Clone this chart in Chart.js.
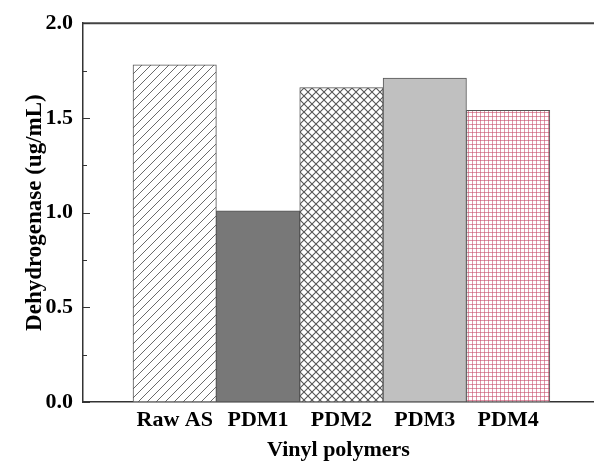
<!DOCTYPE html>
<html>
<head>
<meta charset="utf-8">
<script src="https://cdn.jsdelivr.net/npm/chart.js@4.4.1/dist/chart.umd.min.js"></script>
<style>
html,body{margin:0;padding:0;background:#fff;overflow:hidden;}
#wrap{position:relative;width:594px;height:463px;}
</style>
</head>
<body>
<div id="wrap"><canvas id="c" width="594" height="463"></canvas></div>
<script>
// ---- data ----
const categories = ['Raw AS', 'PDM1', 'PDM2', 'PDM3', 'PDM4'];
const dehydrogenase = [1.78, 1.01, 1.66, 1.71, 1.54];
const yTickLabels = ['0.0', '0.5', '1.0', '1.5', '2.0'];
const yTitle = 'Dehydrogenase (ug/mL)';
const xTitle = 'Vinyl polymers';

// ---- patterns ----
function makePattern(size, draw) {
  const c = document.createElement('canvas');
  c.width = size; c.height = size;
  const g = c.getContext('2d');
  g.fillStyle = '#fff'; g.fillRect(0, 0, size, size);
  draw(g, size);
  return document.getElementById('c').getContext('2d').createPattern(c, 'repeat');
}
const hatch = makePattern(9, (g, s) => {
  g.strokeStyle = '#6a6a6a'; g.lineWidth = 1;
  g.beginPath();
  g.moveTo(-1, s + 1); g.lineTo(s + 1, -1);
  g.moveTo(-1, 1); g.lineTo(1, -1);
  g.moveTo(s - 1, s + 1); g.lineTo(s + 1, s - 1);
  g.stroke();
});
const cross = makePattern(8, (g, s) => {
  g.strokeStyle = '#555'; g.lineWidth = 1.1;
  g.beginPath();
  g.moveTo(-1, s + 1); g.lineTo(s + 1, -1);
  g.moveTo(-1, -1); g.lineTo(s + 1, s + 1);
  g.stroke();
});
const grid = makePattern(4, (g, s) => {
  g.fillStyle = 'rgba(200,80,110,0.6)';
  g.fillRect(0, 0, s, 1);
  g.fillRect(0, 0, 1, s);
});
const fills = [hatch, '#787878', cross, '#c0c0c0', grid];

const font = 'Liberation Serif, Times New Roman, serif';

const frame = {
  id: 'frame',
  afterDraw(chart) {
    const { ctx, chartArea: a, scales: { y } } = chart;
    ctx.save();
    ctx.strokeStyle = '#444';
    ctx.lineWidth = 2;
    ctx.beginPath();
    ctx.moveTo(a.left, a.top); ctx.lineTo(a.right, a.top);
    ctx.stroke();
    ctx.lineWidth = 1;
    ctx.strokeStyle = '#333';
    y.ticks.forEach(t => {
      const py = Math.round(y.getPixelForValue(t.value)) + 0.5;
      const major = Math.abs(t.value * 2 - Math.round(t.value * 2)) < 1e-6;
      ctx.beginPath();
      ctx.moveTo(a.left, py); ctx.lineTo(a.left + (major ? 7 : 4), py);
      ctx.stroke();
    });
    ctx.restore();
  }
};

new Chart(document.getElementById('c'), {
  type: 'bar',
  data: {
    datasets: [{
      data: categories.map((c, i) => ({ x: i + 1, y: dehydrogenase[i] })),
      backgroundColor: fills,
      borderColor: '#555',
      borderWidth: 1,
      borderSkipped: false,
      barPercentage: 1,
      categoryPercentage: 1
    }]
  },
  options: {
    responsive: false,
    animation: false,
    devicePixelRatio: 1,
    layout: { padding: 0 },
    plugins: { legend: { display: false }, tooltip: { enabled: false } },
    scales: {
      x: {
        type: 'linear',
        offset: false,
        bounds: 'data',
        min: -0.1,
        max: 6.03,
        grid: { display: false, drawTicks: false, offset: false },
        border: { display: true, color: '#333', width: 1.5 },
        afterBuildTicks(s) { s.ticks = categories.map((c, i) => ({ value: i + 1 })); },
        afterFit(s) { s.height = 61; },
        ticks: {
          padding: 5,
          color: '#000',
          font: { family: font, size: 22, weight: 'bold' },
          callback: (v) => categories[Math.round(v) - 1] || ''
        },
        title: {
          display: true, text: xTitle, color: '#000',
          font: { family: font, size: 22, weight: 'bold' },
          padding: { top: 0, bottom: -1 }
        }
      },
      y: {
        min: 0, max: 2,
        grid: { display: false, drawTicks: false },
        border: { display: true, color: '#333', width: 1.5 },
        afterFit(s) { s.width = 83; },
        ticks: {
          stepSize: 0.25,
          padding: 10,
          color: '#000',
          autoSkip: false,
          font: { family: font, size: 22, weight: 'bold' },
          callback: (v) => {
            const k = v * 2;
            return Math.abs(k - Math.round(k)) < 1e-6 ? yTickLabels[Math.round(k)] : '';
          }
        },
        title: {
          display: true, text: yTitle, color: '#000',
          font: { family: font, size: 23, weight: 'bold' },
          padding: { top: 21, bottom: 0 }
        }
      }
    }
  },
  plugins: [frame]
});
</script>
</body>
</html>
